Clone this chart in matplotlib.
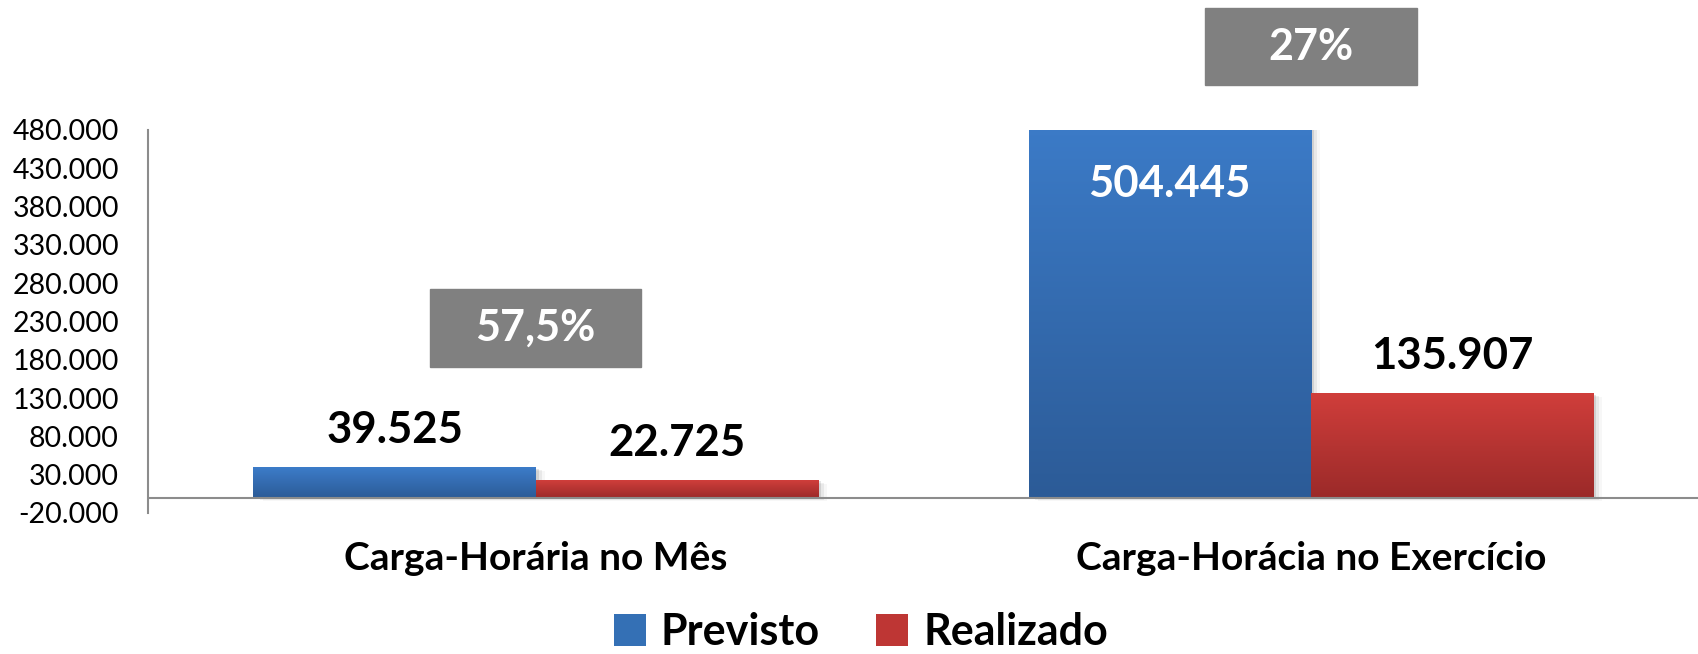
import numpy as np
import matplotlib.pyplot as plt
from matplotlib.patches import Rectangle, Patch
from matplotlib.colors import LinearSegmentedColormap

categories = ["Carga-Horária no Mês", "Carga-Horácia no Exercício"]
previsto = [39525, 504445]
realizado = [22725, 135907]
percent_labels = ["57,5%", "27%"]
y_ticks = list(range(-20000, 480001, 50000))
series_names = ["Previsto", "Realizado"]

plt.rcParams['font.family'] = ['Lato', 'DejaVu Sans']


def fmt(v):
    return f"{v:,.0f}".replace(",", ".")


blue_cm = LinearSegmentedColormap.from_list("b", ["#2c5b97", "#3c7cc9"])
red_cm = LinearSegmentedColormap.from_list("r", ["#9b2a29", "#d03e3b"])

fig = plt.figure(figsize=(16.98, 6.54), dpi=100)
ax = fig.add_axes([0.0872, 0.2156, 0.913, 0.586])
ax.set_xlim(-0.5, 1.5)
ax.set_ylim(-20000, 480000)

x = np.arange(len(categories))
w = 0.364
grad = np.linspace(0, 1, 256).reshape(-1, 1)
bars_b = ax.bar(x - w / 2, previsto, w, color="#3470b5", zorder=2)
bars_r = ax.bar(x + w / 2, realizado, w, color="#be3634", zorder=2)
for bars, cm in ((bars_b, blue_cm), (bars_r, red_cm)):
    for b in bars:
        x0, y0 = b.get_x(), b.get_y()
        bw, bh = b.get_width(), b.get_height()
        # soft shadow
        for k, a in enumerate([0.10, 0.06, 0.03]):
            ax.add_patch(Rectangle((x0 + 0.004 * (k + 1), y0 - 1500 * (k + 1)), bw, bh,
                                   color="black", alpha=a, lw=0, zorder=1))
        ax.imshow(grad, cmap=cm, aspect="auto", origin="lower",
                  extent=(x0, x0 + bw, y0, y0 + bh), zorder=3)

ax.set_xlim(-0.5, 1.5)
ax.set_ylim(-20000, 480000)

# value labels
ymax = ax.get_ylim()[1]
lbl = dict(ha="center", va="center", fontsize=31.5, fontweight="bold", zorder=5)
for xi, v in zip(x - w / 2, previsto):
    if v > ymax:
        ax.annotate(fmt(v), (xi, ymax), xytext=(0, -39), textcoords="offset points",
                    color="white", **lbl)
    else:
        ax.annotate(fmt(v), (xi, v), xytext=(0, 27), textcoords="offset points",
                    color="black", **lbl)
for xi, v in zip(x + w / 2, realizado):
    ax.annotate(fmt(v), (xi, v), xytext=(0, 27), textcoords="offset points",
                color="black", **lbl)

# percentage boxes
box_y = [171000, 538000]
for xi, lab, by in zip(x, percent_labels, box_y):
    ax.add_patch(Rectangle((xi - 0.1365, by), 0.273, 101000, color="#808080",
                           clip_on=False, zorder=4))
    ax.text(xi, by + 50500, lab, ha="center", va="center", fontsize=31,
            fontweight="bold", color="white", zorder=5, clip_on=False)

ax.axhline(0, color="#8c8c8c", lw=1.5, zorder=4)
for s in ("top", "right", "bottom"):
    ax.spines[s].set_visible(False)
ax.spines["left"].set_color("#8c8c8c")
ax.spines["left"].set_linewidth(1.5)

ax.set_yticks(y_ticks)
ax.set_yticklabels([fmt(t) for t in y_ticks], fontsize=20.5)
ax.set_xticks(x)
ax.set_xticklabels(categories, fontsize=28, fontweight="bold")
ax.tick_params(axis="y", length=0, pad=21)
ax.tick_params(axis="x", length=0, pad=20)

handles = [Patch(facecolor="#3470b5"), Patch(facecolor="#be3634")]
fig.legend(handles, series_names, loc="center", bbox_to_anchor=(0.507, 0.034),
           ncol=2, frameon=False, prop={"size": 31, "weight": "bold"},
           handlelength=0.75, handleheight=0.75, handletextpad=0.35, columnspacing=1.3,
           borderpad=0.1)

fig.savefig("out.png", dpi=100)
